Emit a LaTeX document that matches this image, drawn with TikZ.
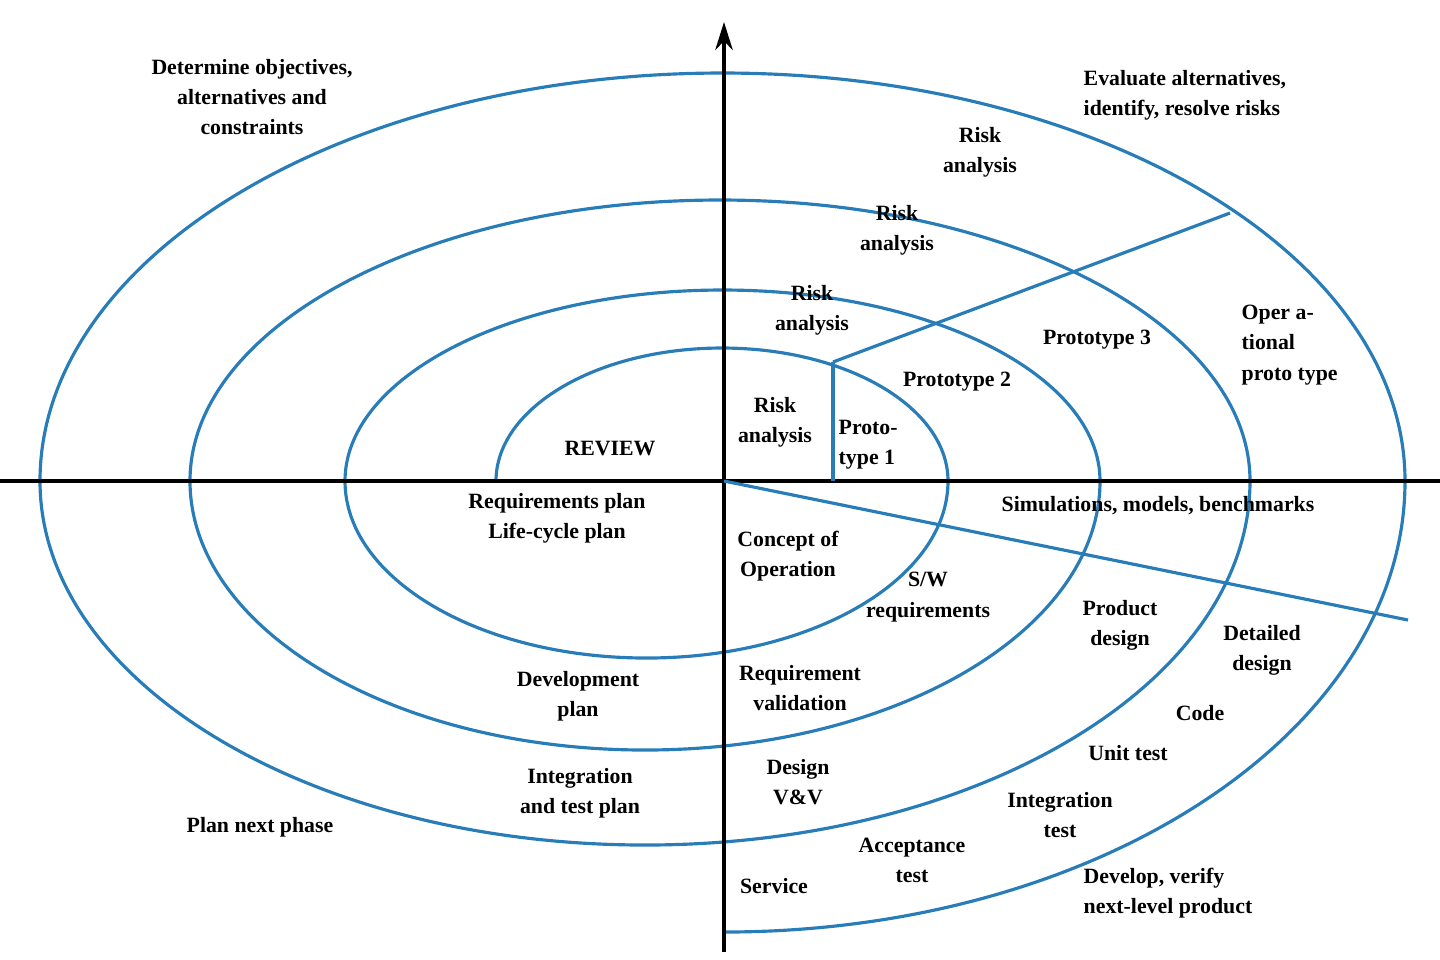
\documentclass[tikz,border=0pt]{standalone}
\usepackage{fontspec}
\setmainfont{Liberation Serif}
\usetikzlibrary{arrows.meta}
\definecolor{spiral}{RGB}{40,125,185}
\begin{document}
\begin{tikzpicture}[x=0.01cm,y=-0.01cm,
  lbl/.style={font=\fontsize{6.2}{8.6}\selectfont\bfseries,align=center,inner sep=0pt},
  lbll/.style={lbl,align=left},
  sp/.style={draw=spiral,line width=0.9pt}]
\useasboundingbox (0,0) rectangle (1440,959);
% spiral
\draw[sp] (496,481) arc[start angle=180,end angle=360,x radius=226,y radius=133]
  arc[start angle=0,end angle=180,x radius=301.5,y radius=177]
  arc[start angle=180,end angle=360,x radius=377.5,y radius=191]
  arc[start angle=0,end angle=180,x radius=455,y radius=269]
  arc[start angle=180,end angle=360,x radius=530,y radius=281]
  arc[start angle=0,end angle=180,x radius=605,y radius=364]
  arc[start angle=180,end angle=360,x radius=682.5,y radius=408]
  arc[start angle=0,end angle=90,x radius=681,y radius=451];
% axes
\coordinate (o) at (724,481);
\coordinate (xl) at (0,481); \coordinate (xr) at (1440,481);
\coordinate (yb) at (724,952); \coordinate (yt) at (724,22);
\draw[line width=0.9pt] (xl) -- (xr);
\draw[line width=0.9pt,-{Stealth[length=8pt,width=5pt]}] (yb) -- (yt);
% other lines
\coordinate (p) at (833,362); \coordinate (pb) at (833,481);
\coordinate (pr) at (1230,213); \coordinate (lr) at (1408,620);
\draw[sp] (p) -- (pb);
\draw[sp] (p) -- (pr);
\draw[sp] (o) -- (lr);
% labels
\node[lbl] (t1) at (252,97) {Determine objectives,\\alternatives and\\constraints};
\node[lbll,anchor=west] (t2) at (1083,95) {Evaluate alternatives,\\identify, resolve risks};
\node[lbl] (r4) at (980,152) {Risk\\analysis};
\node[lbl] (r3) at (897,230) {Risk\\analysis};
\node[lbl] (r2) at (812,310) {Risk\\analysis};
\node[lbl] (r1) at (775,422) {Risk\\analysis};
\node[lbll,anchor=west] (p1) at (838,445) {Proto-\\type 1};
\node[lbl] (p2) at (957,382) {Prototype 2};
\node[lbl] (p3) at (1097,340) {Prototype 3};
\node[lbll,anchor=west] (p4) at (1241,345) {Oper a-\\tional\\proto type};
\node[lbl] (rev) at (610,449) {REVIEW};
\node[lbl] (rp) at (557,518) {Requirements plan\\Life-cycle plan};
\node[lbl] (sim) at (1158,506) {Simulations, models, benchmarks};
\node[lbl] (co) at (788,556) {Concept of\\Operation};
\node[lbl] (sw) at (928,597) {S/W\\requirements};
\node[lbl] (pd) at (1120,625) {Product\\design};
\node[lbl] (dd) at (1262,650) {Detailed\\design};
\node[lbl] (cd) at (1200,713) {Code};
\node[lbl] (ut) at (1128,753) {Unit test};
\node[lbl] (dp) at (578,696) {Development\\plan};
\node[lbl] (rv) at (800,688) {Requirement\\validation};
\node[lbl] (it) at (580,793) {Integration\\and test plan};
\node[lbl] (dv) at (798,782) {Design\\V\&V};
\node[lbl] (pn) at (260,827) {Plan next phase};
\node[lbl] (itt) at (1060,815) {Integration\\test};
\node[lbl] (at) at (912,860) {Acceptance\\test};
\node[lbl] (sv) at (774,886) {Service};
\node[lbll,anchor=west] (dvp) at (1083,893) {Develop, verify\\next-level product};
\end{tikzpicture}
\end{document}
